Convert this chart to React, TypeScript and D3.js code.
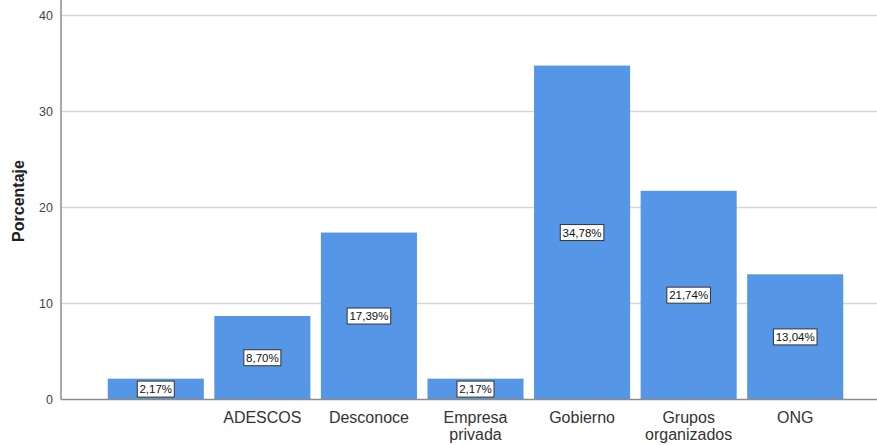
import React from "react";
import * as d3 from "d3";

const categories: string[] = ["", "ADESCOS", "Desconoce", "Empresa privada", "Gobierno", "Grupos organizados", "ONG"];
const categoryLines: string[][] = [[""], ["ADESCOS"], ["Desconoce"], ["Empresa", "privada"], ["Gobierno"], ["Grupos", "organizados"], ["ONG"]];
const values: number[] = [2.17, 8.70, 17.39, 2.17, 34.78, 21.74, 13.04];
const valueLabels: string[] = ["2,17%", "8,70%", "17,39%", "2,17%", "34,78%", "21,74%", "13,04%"];
const yTicks: number[] = [0, 10, 20, 30, 40];

const W = 877;
const H = 445;
const axisX = 61;
const y0 = 399.5;

export default function App() {
  const x = d3.scaleBand<string>()
    .domain(categories.map((c, i) => i + ":" + c))
    .range([102.5, 848.5])
    .paddingInner(0.0986)
    .paddingOuter(0.0493);
  const y = d3.scaleLinear().domain([0, 40]).range([y0, 15.5]);
  const font = "Arial, 'Liberation Sans', sans-serif";
  const keys = x.domain();

  return (
    <svg width={W} height={H} style={{ position: "absolute", left: 0, top: 0, background: "#fff" }} fontFamily={font}>
      {yTicks.filter(t => t > 0).map(t => (
        <line key={"g" + t} x1={axisX} x2={W} y1={y(t)} y2={y(t)} stroke="#d6d6d6" strokeWidth={1.5} />
      ))}
      {values.map((v, i) => (
        <rect key={"b" + i} x={x(keys[i])!} y={y(v)} width={x.bandwidth()} height={y0 - y(v)} fill="#5596e6" />
      ))}
      <line x1={axisX} x2={axisX} y1={0} y2={y0} stroke="#8c8c8c" strokeWidth={1.5} />
      <line x1={axisX} x2={W} y1={y0} y2={y0} stroke="#8c8c8c" strokeWidth={1.5} />
      {yTicks.map(t => (
        <text key={"t" + t} x={53} y={y(t)} dy="0.35em" textAnchor="end" fontSize={12.5} fill="#444">{t}</text>
      ))}
      <text transform={`translate(24,201) rotate(-90)`} textAnchor="middle" fontSize={16} fontWeight="bold" fill="#222">Porcentaje</text>
      {categoryLines.map((lines, i) => (
        <text key={"c" + i} x={x(keys[i])! + x.bandwidth() / 2} y={422.5} textAnchor="middle" fontSize={16} fill="#333">
          {lines.map((l, j) => (
            <tspan key={j} x={x(keys[i])! + x.bandwidth() / 2} dy={j === 0 ? 0 : 17}>{l}</tspan>
          ))}
        </text>
      ))}
      {values.map((v, i) => {
        const cx = x(keys[i])! + x.bandwidth() / 2;
        const cy = y(v / 2);
        const w = valueLabels[i].length * 6.6 + 4;
        return (
          <g key={"l" + i}>
            <rect x={cx - w / 2} y={cy - 8} width={w} height={16} fill="#fff" stroke="#333" strokeWidth={1} />
            <text x={cx} y={cy} dy="0.36em" textAnchor="middle" fontSize={11.5} fill="#111">{valueLabels[i]}</text>
          </g>
        );
      })}
    </svg>
  );
}
